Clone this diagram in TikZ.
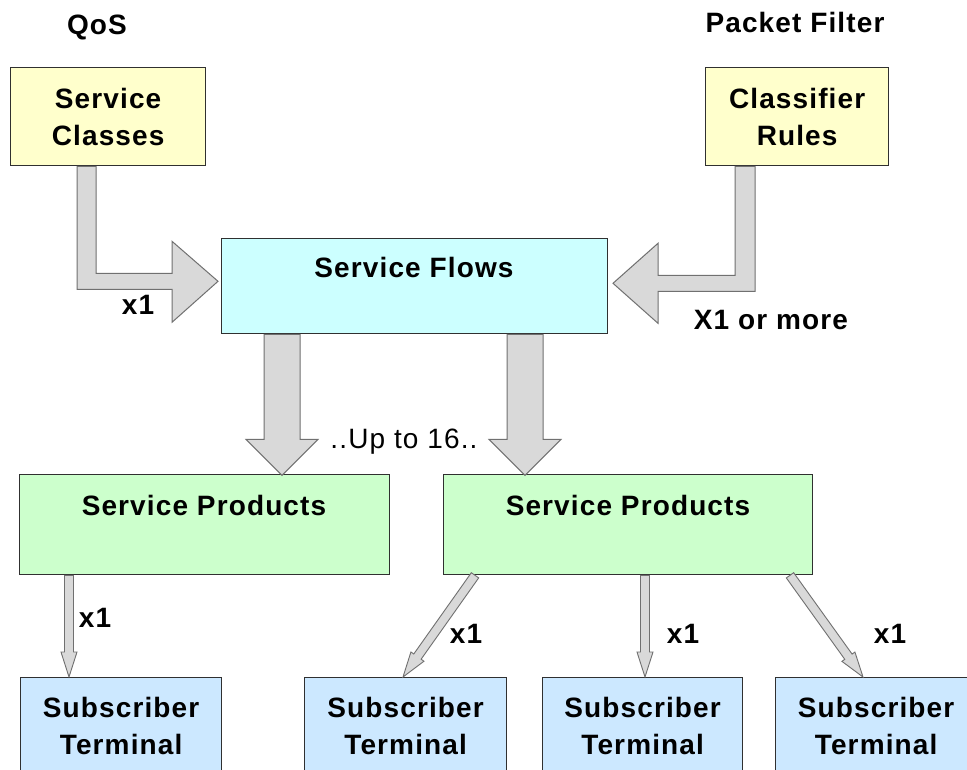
\documentclass[tikz,border=0pt]{standalone}
\usepackage{fontspec}
\setmainfont[LetterSpace=4]{Liberation Sans}
\usetikzlibrary{calc}
\definecolor{ybox}{HTML}{FFFFCC}
\definecolor{cbox}{HTML}{CCFFFF}
\definecolor{gbox}{HTML}{CCFFCC}
\definecolor{bbox}{HTML}{CCE8FF}
\definecolor{afill}{HTML}{D9D9D9}
\definecolor{aline}{HTML}{707070}
\definecolor{bline}{HTML}{303030}
\newcommand\thinarr[2]{%
  \path (#1) coordinate (ta) (#2) coordinate (tb);
  \coordinate (th) at ($(tb)!25pt!(ta)$);
  \draw[thinarrow] ($(ta)!4.5pt!90:(tb)$) -- ($(th)!4.5pt!90:(tb)$) -- ($(th)!8pt!90:(tb)$) -- (tb)
     -- ($(th)!8pt!-90:(tb)$) -- ($(th)!4.5pt!-90:(tb)$) -- ($(ta)!4.5pt!-90:(tb)$) -- cycle;}
\begin{document}
\begin{tikzpicture}[x=1pt,y=-1pt,
  every node/.style={font=\fontsize{28}{37}\selectfont\bfseries},
  box/.style={draw=bline, line width=1.3pt, inner sep=0pt, anchor=north west, align=center},
  lbl/.style={anchor=base, inner sep=0pt},
  fat/.style={fill=afill, draw=aline, line width=1pt, line join=miter},
  thinarrow/.style={fill=afill, draw=aline, line width=0.9pt, line join=miter}]
\useasboundingbox (0,0) rectangle (967,770);
\clip (0,0) rectangle (967,770);
\fill[white] (0,0) rectangle (967,770);
% boxes
\node[box, fill=ybox, minimum width=195pt, minimum height=98pt] (sc) at (10,67) {Service\\Classes};
\node[box, fill=ybox, minimum width=183pt, minimum height=98pt] (cr) at (705,67) {Classifier\\Rules};
\node[box, fill=cbox, minimum width=386pt, minimum height=95pt] (sf) at (221,238) {};
\node[box, fill=gbox, minimum width=370pt, minimum height=100pt] (sp1) at (19,474) {};
\node[box, fill=gbox, minimum width=369pt, minimum height=100pt] (sp2) at (443,474) {};
\node[box, fill=bbox, minimum width=201pt, minimum height=97pt] (st1) at (20,677) {Subscriber\\Terminal};
\node[box, fill=bbox, minimum width=202pt, minimum height=97pt] (st2) at (304,677) {Subscriber\\Terminal};
\node[box, fill=bbox, minimum width=200pt, minimum height=97pt] (st3) at (542,677) {Subscriber\\Terminal};
\node[box, fill=bbox, minimum width=201pt, minimum height=97pt] (st4) at (775,677) {Subscriber\\Terminal};
% texts
\node[lbl] (qos) at (97,35) {QoS};
\node[lbl] (pf) at (795,33) {Packet Filter};
\node[lbl] (sft) at (414,277) {Service Flows};
\node[lbl] (sp1t) at (204,515) {Service Products};
\node[lbl] (sp2t) at (628,515) {Service Products};
\node[lbl] (x1a) at (138,315) {x1};
\node[lbl] (xmore) at (771,330) {X1 or more};
\node[lbl, font=\fontsize{28}{37}\selectfont] (upto) at (404,448) {..Up to 16..};
\node[lbl] (x1b) at (95,627) {x1};
\node[lbl] (x1c) at (466,643) {x1};
\node[lbl] (x1d) at (683,643) {x1};
\node[lbl] (x1e) at (890,643) {x1};
% elbow arrows
\draw[fat] ($(sc.south west)+(67,0)$) -- ++(19,0) -- ++(0,107) -- ++(76,0) -- ++(0,-32)
  -- ++(46,40) -- ++(-46,41) -- ++(0,-33) -- ++(-95,0) -- cycle;
\draw[fat] ($(cr.south west)+(50,0)$) -- ++(-20,0) -- ++(0,109) -- ++(-77,0) -- ++(0,-32)
  -- ++(-45,40) -- ++(45,40) -- ++(0,-32) -- ++(97,0) -- cycle;
% down arrows
\draw[fat] ($(sf.south west)+(43,0)$) -- ++(36,0) -- ++(0,105) -- ++(18,0) -- ++(-36,36)
  -- ++(-36,-36) -- ++(18,0) -- cycle;
\draw[fat] ($(sf.south west)+(286,0)$) -- ++(36,0) -- ++(0,105) -- ++(18,0) -- ++(-36,36)
  -- ++(-36,-36) -- ++(18,0) -- cycle;
% thin arrows
\thinarr{$(sp1.south west)+(50,0)$}{$(st1.north west)+(49,0)$}
\thinarr{$(sp2.south west)+(32,0)$}{$(st2.north west)+(99,0)$}
\thinarr{$(sp2.south west)+(202,0)$}{$(st3.north west)+(103,0)$}
\thinarr{$(sp2.south west)+(347,0)$}{$(st4.north west)+(88,0)$}
\end{tikzpicture}
\end{document}
